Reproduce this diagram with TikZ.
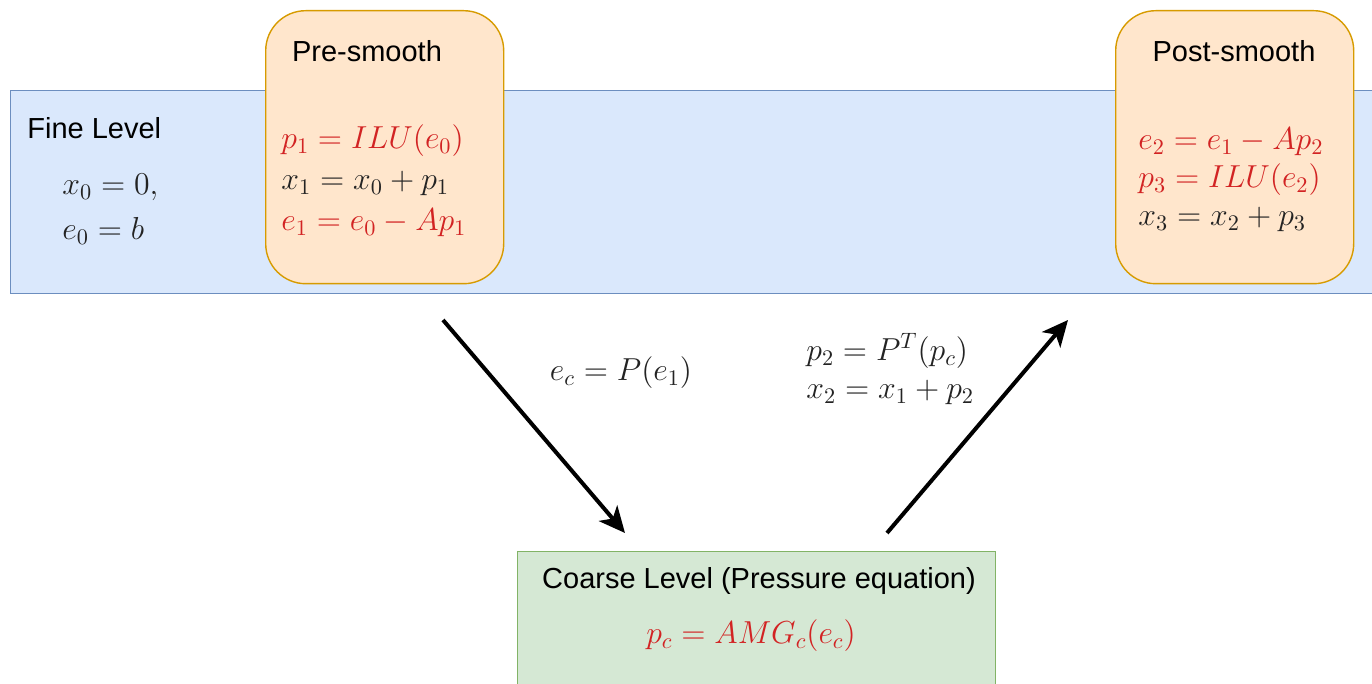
\RequirePackage{fix-cm}
\documentclass[tikz,border=0pt]{standalone}
\usepackage{fontspec}
\setsansfont{Liberation Sans}
\usepackage{xcolor}
\usepackage{tikz}
\usetikzlibrary{arrows.meta,positioning,calc}
\definecolor{fineblue}{RGB}{218, 232, 252}
\definecolor{fineline}{RGB}{108, 142, 191}
\definecolor{smoothbg}{RGB}{255, 230, 204}
\definecolor{smoothline}{RGB}{215, 155, 0}
\definecolor{coarsebg}{RGB}{213, 232, 212}
\definecolor{coarseline}{RGB}{130, 179, 102}
\definecolor{eqred}{RGB}{210, 35, 35}
\definecolor{eqdark}{RGB}{35, 35, 35}

\tikzset{
    levelbox/.style={anchor=north west, inner sep=0pt, line width=0.7pt},
    smoothbox/.style={anchor=north west, inner sep=0pt, line width=0.7pt,
        draw=smoothline, fill=smoothbg, rounded corners=20pt,
        minimum width=119pt, minimum height=136.5pt},
    boxtitle/.style={font=\sffamily\fontsize{14.5}{17}\selectfont, inner sep=0pt},
    eqs/.style={font=\fontsize{15.9}{20.5}\selectfont, text=eqdark, align=left, inner sep=0pt},
    flow/.style={line width=2pt, -{Stealth[length=13pt, width=12pt, inset=3.5pt]}}
}

\begin{document}
\begin{tikzpicture}[x=0.5pt, y=-0.5pt]
    \useasboundingbox (0,0) rectangle (1372,684);
    % levels
    \node[levelbox, draw=fineline, fill=fineblue, minimum width=686pt, minimum height=101.5pt] (fine) at (10,90) {};
    \node[levelbox, draw=coarseline, fill=coarsebg, minimum width=239pt, minimum height=75pt] (coarse) at (517,551) {};
    % smoothers
    \node[smoothbox] (presmooth) at (265,10) {};
    \node[smoothbox] (postsmooth) at (1115,10) {};

    \node[boxtitle, anchor=west] (finetitle) at (27,128) {Fine Level};
    \node[eqs, anchor=west, font=\fontsize{15.9}{22.5}\selectfont] (fineinit) at (62,209) {$x_0 = 0,$\\$e_0 = b$};

    \node[boxtitle] (pretitle) at (367,51) {Pre-smooth};
    \node[eqs, anchor=west] (preeqs) at (281,181) {\textcolor{eqred}{$p_1 = ILU(e_0)$}\\$x_1 = x_0 + p_1$\\\textcolor{eqred}{$e_1 = e_0 - Ap_1$}};

    \node[boxtitle] (posttitle) at (1234,51) {Post-smooth};
    \node[eqs, anchor=west, font=\fontsize{15.9}{19}\selectfont] (posteqs) at (1138,180) {\textcolor{eqred}{$e_2 = e_1 - Ap_2$}\\\textcolor{eqred}{$p_3 = ILU(e_2)$}\\$x_3 = x_2 + p_3$};

    \node[boxtitle] (coarsetitle) at (759,581) {Coarse Level (Pressure equation)};
    \node[eqs, text=eqred] (coarseeq) at (751,636) {$p_c = AMG_c(e_c)$};

    % transfer
    \coordinate (downfrom) at (443,320);
    \coordinate (downto) at (625,533);
    \coordinate (upfrom) at (887,533);
    \coordinate (upto) at (1068,320);
    \draw[flow] (downfrom) -- (downto);
    \draw[flow] (upfrom) -- (upto);
    \node[eqs] (restrict) at (621,373) {$e_c = P(e_1)$};
    \node[eqs, anchor=west, font=\fontsize{15.9}{19}\selectfont] (prolong) at (806,369) {$p_2 = P^T(p_c)$\\$x_2 = x_1 + p_2$};
\end{tikzpicture}
\end{document}
